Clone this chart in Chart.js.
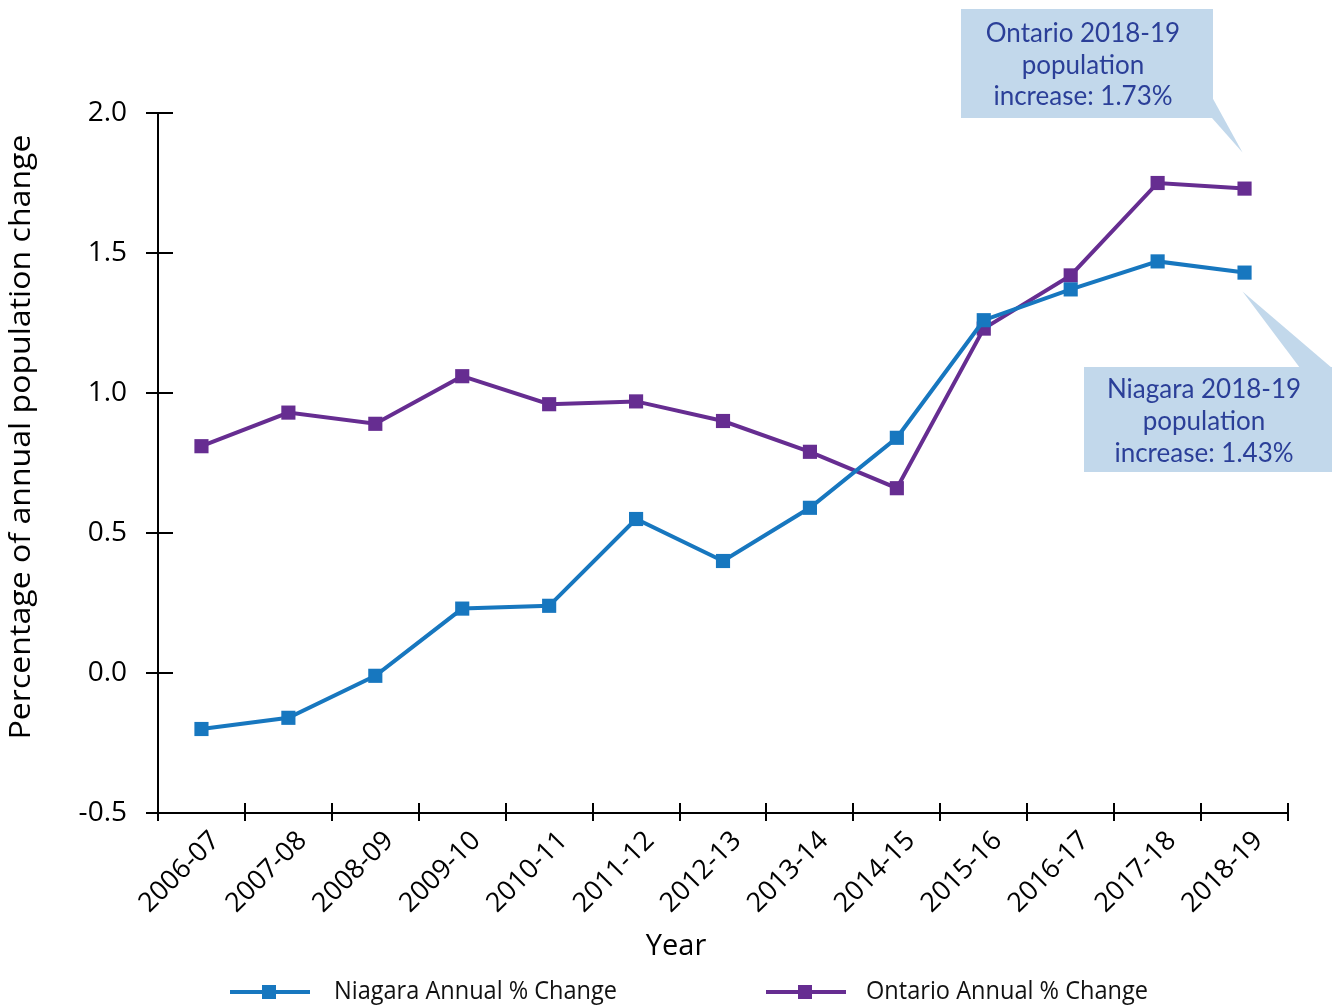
<!DOCTYPE html>
<html><head><meta charset="utf-8">
<script src="https://cdn.jsdelivr.net/npm/chart.js@4"></script>
<style>html,body{margin:0;padding:0;background:#fff}#wrap{width:1332px;height:1007px}</style>
</head><body><div id="wrap"><canvas id="c" width="1332" height="1007"></canvas></div>
<script>
const categories = ['2006-07','2007-08','2008-09','2009-10','2010-11','2011-12','2012-13','2013-14','2014-15','2015-16','2016-17','2017-18','2018-19'];
const niagaraValues = [-0.20,-0.16,-0.01,0.23,0.24,0.55,0.40,0.59,0.84,1.26,1.37,1.47,1.43];
const ontarioValues = [0.81,0.93,0.89,1.06,0.96,0.97,0.90,0.79,0.66,1.23,1.42,1.75,1.73];
const seriesLabels = ['Niagara Annual % Change','Ontario Annual % Change'];
const seriesColors = ['#1777bf','#662d91'];
const yMin = -0.5, yMax = 2.0, yStep = 0.5;
const xTitle = 'Year';
const yTitle = 'Percentage of annual population change';
const ontarioNote = ['Ontario 2018-19','population','increase: 1.73%'];
const niagaraNote = ['Niagara 2018-19','population','increase: 1.43%'];

const FONT = '"Open Sans", "Noto Sans", sans-serif';
const NOTE_FONT = 'Lato, "Open Sans", sans-serif';

function fitText(ctx, text, x, y, width) {
  const w = ctx.measureText(text).width;
  ctx.save();
  ctx.translate(x, y);
  ctx.scale(width / w, 1);
  ctx.fillText(text, 0, 0);
  ctx.restore();
}

const extras = {
  id: 'extras',
  afterDraw(chart) {
    const ctx = chart.ctx, ca = chart.chartArea;
    const xs = chart.scales.x, ys = chart.scales.y;
    ctx.save();
    ctx.strokeStyle = '#000'; ctx.lineWidth = 2;
    ys.ticks.forEach(t => {
      const y = Math.round(ys.getPixelForValue(t.value));
      ctx.beginPath(); ctx.moveTo(ca.left, y); ctx.lineTo(ca.left + 15, y); ctx.stroke();
    });
    const half = (xs.getPixelForTick(1) - xs.getPixelForTick(0)) / 2;
    for (let i = 0; i <= categories.length; i++) {
      const x = Math.round(xs.getPixelForTick(0) - half + i * 2 * half);
      ctx.beginPath(); ctx.moveTo(x, ca.bottom); ctx.lineTo(x, ca.bottom - 10); ctx.stroke();
    }
    ctx.fillStyle = '#000';
    ctx.font = '29px ' + FONT;
    ctx.textAlign = 'center'; ctx.textBaseline = 'middle';
    ctx.fillText(xTitle, 676, 947);
    ctx.save();
    ctx.translate(22, 437); ctx.rotate(-Math.PI / 2);
    ctx.font = '29px ' + FONT;
    fitText(ctx, yTitle, 0, 0, 605);
    ctx.restore();
    const legendX = [230, 766];
    const textX = [334, 866];
    const textW = [283, 282];
    chart.data.datasets.forEach((ds, i) => {
      const lx = legendX[i], ly = 992;
      ctx.strokeStyle = ds.borderColor; ctx.lineWidth = 4;
      ctx.beginPath(); ctx.moveTo(lx, ly); ctx.lineTo(lx + 80, ly); ctx.stroke();
      ctx.fillStyle = ds.borderColor;
      ctx.fillRect(lx + 32, ly - 7, 14, 14);
      ctx.fillStyle = '#111';
      ctx.font = '25px ' + FONT;
      ctx.textAlign = 'left'; ctx.textBaseline = 'middle';
      fitText(ctx, ds.label, textX[i], ly, textW[i]);
    });
    const last = categories.length - 1;
    const px = xs.getPixelForValue(last);
    const oy = ys.getPixelForValue(ontarioValues[last]);
    const ny = ys.getPixelForValue(niagaraValues[last]);
    ctx.fillStyle = '#c2d8eb';
    ctx.fillRect(961, 9, 252, 109);
    ctx.beginPath(); ctx.moveTo(1212, 97); ctx.lineTo(1212, 118); ctx.lineTo(px - 2, oy - 36); ctx.closePath(); ctx.fill();
    ctx.fillRect(1084, 367, 248, 105);
    ctx.beginPath(); ctx.moveTo(1300, 368); ctx.lineTo(1332, 368); ctx.lineTo(px - 2, ny + 19); ctx.closePath(); ctx.fill();
    ctx.fillStyle = '#2b3f98';
    ctx.font = '26px ' + NOTE_FONT;
    ctx.textAlign = 'center'; ctx.textBaseline = 'middle';
    ontarioNote.forEach((t, i) => ctx.fillText(t, 1083, 34 + i * 31.5));
    niagaraNote.forEach((t, i) => ctx.fillText(t, 1204, 390 + i * 32));
    ctx.restore();
  }
};

new Chart(document.getElementById('c'), {
  type: 'line',
  data: {
    labels: categories,
    datasets: [
      { label: seriesLabels[0], data: niagaraValues, borderColor: seriesColors[0], backgroundColor: seriesColors[0],
        borderWidth: 4, pointStyle: 'rect', pointRadius: 10, pointBorderWidth: 0, tension: 0, fill: false },
      { label: seriesLabels[1], data: ontarioValues, borderColor: seriesColors[1], backgroundColor: seriesColors[1],
        borderWidth: 4, pointStyle: 'rect', pointRadius: 10, pointBorderWidth: 0, tension: 0, fill: false }
    ]
  },
  options: {
    responsive: false, animation: false, devicePixelRatio: 1,
    layout: { padding: { top: 113, right: 44, left: 0, bottom: 0 } },
    plugins: { legend: { display: false }, tooltip: { enabled: false }, title: { display: false } },
    scales: {
      x: {
        offset: true,
        grid: { display: true, drawOnChartArea: false, drawTicks: true, tickLength: 8, color: '#000', lineWidth: 2, offset: true },
        border: { display: true, color: '#000', width: 2 },
        ticks: { color: '#000', font: { family: FONT, size: 27 }, maxRotation: 45, minRotation: 45, padding: 4, labelOffset: 14, autoSkip: false },
        afterFit(s) { s.height = 194; }
      },
      y: {
        min: yMin, max: yMax,
        grid: { display: true, drawOnChartArea: false, drawTicks: true, tickLength: 12, color: '#000', lineWidth: 2 },
        border: { display: true, color: '#000', width: 2 },
        ticks: { stepSize: yStep, color: '#000', font: { family: FONT, size: 28 }, padding: 19,
          callback: v => Number(v).toFixed(1) },
        afterFit(s) { s.width = 158; }
      }
    }
  },
  plugins: [extras]
});
</script></body></html>
